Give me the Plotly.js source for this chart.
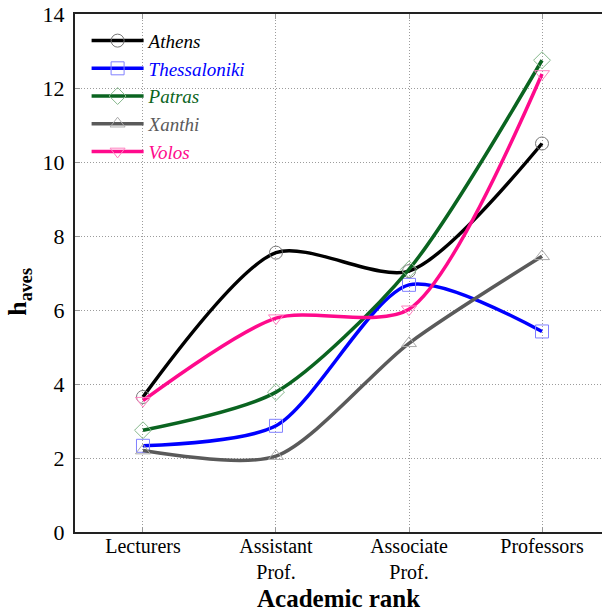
<!DOCTYPE html>
<html>
<head>
<meta charset="utf-8">
<script src="https://cdn.plot.ly/plotly-3.0.1.min.js"></script>
<style>html,body{margin:0;padding:0;background:#fff;}#chart{width:602px;height:612px;}</style>
</head>
<body>
<div id="chart"></div>
<script>
const ranks = ['Lecturers', 'Assistant<br>Prof.', 'Associate<br>Prof.', 'Professors'];
const athens = [3.65, 7.55, 7.05, 10.5];
const thessaloniki = [2.33, 2.87, 6.68, 5.42];
const patras = [2.75, 3.78, 7.1, 12.75];
const xanthi = [2.2, 2.05, 5.1, 7.45];
const volos = [3.55, 5.78, 6.02, 12.38];
const yTicks = [0, 2, 4, 6, 8, 10, 12, 14];

const seriesNames = ['Athens', 'Thessaloniki', 'Patras', 'Xanthi', 'Volos'];
const seriesData = [athens, thessaloniki, patras, xanthi, volos];
const lineColors = ['#000000', '#0000ff', '#0a6420', '#5a5a5a', '#ff0a8c'];
const markerColors = ['#777777', '#8080ff', '#86b88c', '#aaaaaa', '#ff80c0'];
const symbols = ['circle-open', 'square-open', 'diamond-open', 'triangle-up-open', 'triangle-down-open'];

const SERIF = 'Liberation Serif';

const traces = seriesNames.map((n, i) => ({
  x: ranks,
  y: seriesData[i],
  type: 'scatter',
  mode: 'lines+markers',
  name: '<span style="color:' + lineColors[i] + '"><i>' + n + '</i></span>',
  line: {color: lineColors[i], width: 3.5, shape: 'spline', smoothing: 0.75},
  marker: {symbol: symbols[i], size: 13, color: markerColors[i], line: {color: markerColors[i], width: 1}}
}));

const layout = {
  width: 602, height: 612,
  margin: {l: 75, r: 0, t: 14, b: 80},
  paper_bgcolor: '#fff', plot_bgcolor: '#fff',
  font: {family: SERIF, color: '#000', size: 21},
  showlegend: true,
  legend: {
    x: 0.022, y: 0.985, xanchor: 'left', yanchor: 'top',
    bgcolor: 'rgba(255,255,255,0)', borderwidth: 0,
    font: {family: SERIF, size: 19},
    itemwidth: 52, tracegroupgap: 0
  },
  xaxis: {
    type: 'category',
    range: [-0.511, 3.451],
    showgrid: true, gridcolor: '#9c9c9c', griddash: '1px,2px', gridwidth: 1,
    showline: true, linecolor: '#222', linewidth: 2, mirror: 'ticks',
    ticks: 'inside', ticklen: 5, tickcolor: '#999', tickwidth: 1,
    tickfont: {family: SERIF, size: 20, color: '#000'},
    ticklabelstandoff: -5,
    zeroline: false
  },
  yaxis: {
    range: [0, 14],
    tickvals: yTicks,
    showgrid: true, gridcolor: '#9c9c9c', griddash: '1px,2px', gridwidth: 1,
    showline: true, linecolor: '#222', linewidth: 2, mirror: false,
    ticks: 'inside', ticklen: 5, tickcolor: '#999', tickwidth: 1,
    tickfont: {family: SERIF, size: 22, color: '#000'},
    ticklabelstandoff: 4,
    zeroline: false
  },
  annotations: [
    {text: '<b>Academic rank</b>', xref: 'paper', yref: 'paper', x: 0.5, y: -0.128,
     xanchor: 'center', yanchor: 'middle', showarrow: false,
     font: {family: SERIF, size: 25, color: '#000'}},
    {text: '<b>h<sub>aves</sub></b>', xref: 'paper', yref: 'paper', x: -0.105, y: 0.463,
     xanchor: 'center', yanchor: 'middle', showarrow: false, textangle: -90,
     font: {family: SERIF, size: 26, color: '#000'}}
  ]
};

Plotly.newPlot('chart', traces, layout, {displayModeBar: false, staticPlot: true});
</script>
</body>
</html>
